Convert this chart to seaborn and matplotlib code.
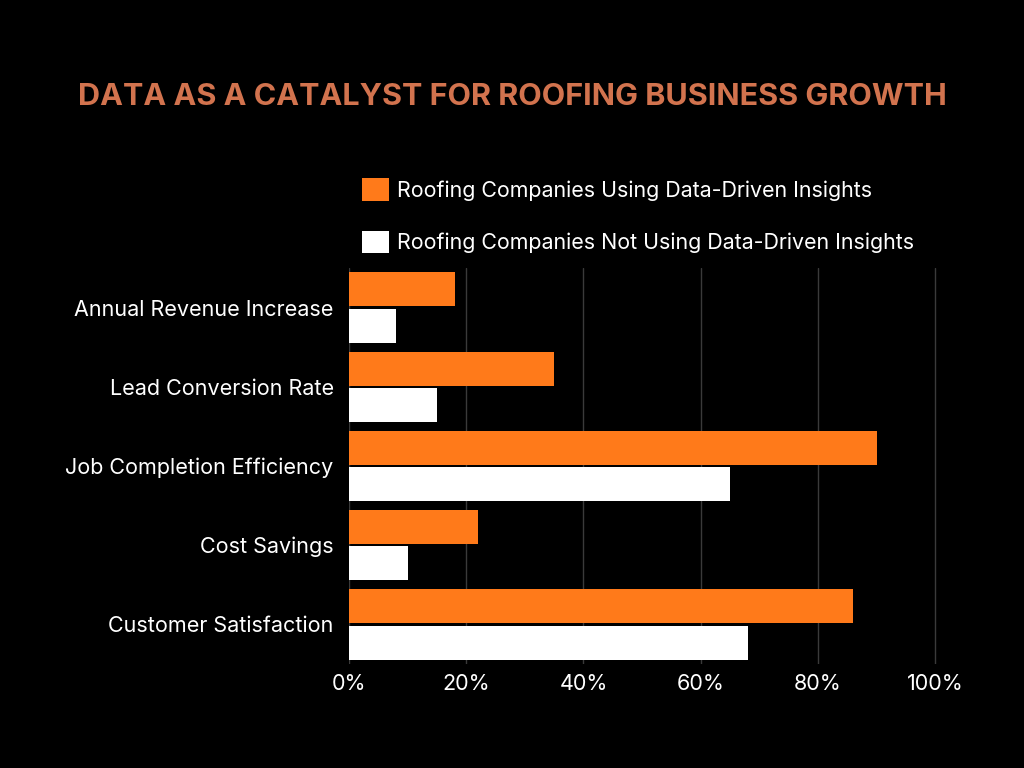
import matplotlib
matplotlib.use("Agg")
import matplotlib.pyplot as plt
import seaborn as sns
import pandas as pd
from matplotlib.patches import Patch
from matplotlib.ticker import FuncFormatter

categories = ["Annual Revenue Increase", "Lead Conversion Rate", "Job Completion Efficiency",
              "Cost Savings", "Customer Satisfaction"]
series_names = ["Roofing Companies Using Data-Driven Insights",
                "Roofing Companies Not Using Data-Driven Insights"]
using_values = [18, 35, 90, 22, 86]
not_using_values = [8, 15, 65, 10, 68]
x_ticks = [0, 20, 40, 60, 80, 100]

df = pd.DataFrame({
    "Metric": categories * 2,
    "Series": [series_names[0]] * len(categories) + [series_names[1]] * len(categories),
    "Value": using_values + not_using_values,
})

sns.set_theme(style="dark")
plt.rcParams["font.family"] = ["Inter", "DejaVu Sans"]

BG = "#000000"
ORANGE = "#FF7A1A"
WHITE = "#FFFFFF"

fig = plt.figure(figsize=(10.24, 7.68), dpi=100, facecolor=BG)
ax = fig.add_axes([349/1024, 1 - 664/768, (937-349)/1024, (664-268)/768])
ax.set_facecolor(BG)

sns.barplot(data=df, y="Metric", x="Value", hue="Series", palette=[ORANGE, WHITE],
            orient="h", width=0.92, ax=ax, legend=False, saturation=1, linewidth=0)

# small gap between paired bars, as in the reference
for patch in ax.patches:
    h = patch.get_height()
    patch.set_y(patch.get_y() + 0.015)
    patch.set_height(h - 0.03)

ax.set_xlim(0, 100.3)
ax.set_xticks(x_ticks)
ax.xaxis.set_major_formatter(FuncFormatter(lambda v, p: f"{int(v)}%"))
ax.grid(axis="x", color="#3a3a3a", linewidth=1)
ax.grid(axis="y", visible=False)
ax.set_axisbelow(True)
for s in ax.spines.values():
    s.set_visible(False)
ax.set_xlabel("")
ax.set_ylabel("")
ax.tick_params(axis="x", colors="white", labelsize=15.5, length=0, pad=7)
ax.tick_params(axis="y", colors="white", labelsize=15.5, length=0, pad=11)

fig.text(512/1024, 1 - 97/768, "DATA AS A CATALYST FOR ROOFING BUSINESS GROWTH",
         ha="center", va="center", color="#D2734E", fontsize=22, fontweight="bold")

handles = [Patch(facecolor=ORANGE, edgecolor="none"), Patch(facecolor=WHITE, edgecolor="none")]
leg = fig.legend(handles, series_names, loc="upper left",
                 bbox_to_anchor=(362/1024, 1 - 178/768), frameon=False,
                 fontsize=15.4, handlelength=1.25, handleheight=1.25,
                 handletextpad=0.4, labelspacing=1.4, borderaxespad=0, borderpad=0)
for t in leg.get_texts():
    t.set_color("white")

fig.savefig("out.png", dpi=100, facecolor=BG)
